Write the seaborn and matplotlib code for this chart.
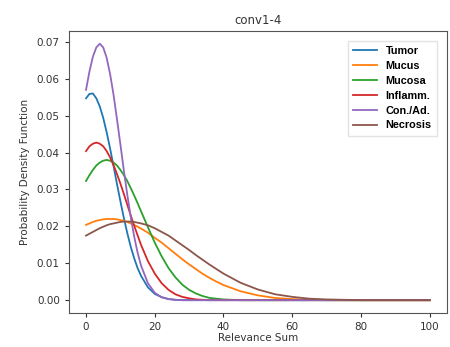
import pandas as pd
import matplotlib
matplotlib.use("Agg")
import matplotlib.pyplot as plt
import seaborn as sns

# --- DATA ---
relevance = [0, 1, 2, 3, 4, 5, 6, 7, 8, 9, 10, 11, 12, 13, 14, 15, 16,
             18, 20, 22, 24, 26, 28, 30, 32, 34, 36, 38, 40,
             45, 50, 55, 60, 65, 70, 75, 80, 90, 100]

tumor = [0.0547, 0.0559, 0.0560, 0.0547, 0.0525, 0.0494, 0.0455, 0.0411, 0.0364, 0.0315, 0.0268,
         0.0223, 0.0182, 0.0145, 0.0114, 0.0087, 0.0066,
         0.0035, 0.0017, 0.0008, 0.0003, 0.0001, 0, 0, 0, 0, 0, 0, 0,
         0, 0, 0, 0, 0, 0, 0, 0, 0, 0]
mucus = [0.0204, 0.0208, 0.0212, 0.0215, 0.0217, 0.0219, 0.0220, 0.0220, 0.0220, 0.0219, 0.0217,
         0.0215, 0.0212, 0.0208, 0.0204, 0.0199, 0.0194,
         0.0183, 0.0169, 0.0156, 0.0141, 0.0126, 0.0111, 0.0097, 0.0084, 0.0071, 0.0060, 0.0050, 0.0041,
         0.0024, 0.0013, 0.0006, 0.0003, 0.0001, 0, 0, 0, 0, 0]
mucosa = [0.0323, 0.0339, 0.0353, 0.0365, 0.0373, 0.0378, 0.0380, 0.0378, 0.0373, 0.0365, 0.0353,
          0.0339, 0.0323, 0.0304, 0.0284, 0.0263, 0.0241,
          0.0198, 0.0156, 0.0119, 0.0087, 0.0062, 0.0042, 0.0028, 0.0018, 0.0011, 0.0006, 0.0004, 0.0002,
          0, 0, 0, 0, 0, 0, 0, 0, 0, 0]
inflamm = [0.0404, 0.0417, 0.0424, 0.0427, 0.0424, 0.0417, 0.0404, 0.0387, 0.0366, 0.0342, 0.0316,
           0.0288, 0.0259, 0.0230, 0.0202, 0.0176, 0.0150,
           0.0106, 0.0072, 0.0046, 0.0028, 0.0016, 0.0009, 0.0005, 0.0002, 0.0001, 0, 0, 0,
           0, 0, 0, 0, 0, 0, 0, 0, 0, 0]
con_ad = [0.0570, 0.0620, 0.0660, 0.0685, 0.0695, 0.0685, 0.0657, 0.0613, 0.0557, 0.0491, 0.0422,
          0.0352, 0.0286, 0.0226, 0.0173, 0.0129, 0.0094,
          0.0046, 0.0020, 0.0008, 0.0003, 0.0001, 0, 0, 0, 0, 0, 0, 0,
          0, 0, 0, 0, 0, 0, 0, 0, 0, 0]
necrosis = [0.0175, 0.0180, 0.0185, 0.0190, 0.0195, 0.0199, 0.0203, 0.0206, 0.0208, 0.0210, 0.0212,
            0.0213, 0.0213, 0.0213, 0.0212, 0.0210, 0.0208,
            0.0203, 0.0195, 0.0185, 0.0175, 0.0162, 0.0149, 0.0136, 0.0122, 0.0109, 0.0096, 0.0084, 0.0072,
            0.0047, 0.0029, 0.0016, 0.0009, 0.0004, 0.0002, 0.0001, 0, 0, 0]

labels = ["Tumor", "Mucus", "Mucosa", "Inflamm.", "Con./Ad.", "Necrosis"]
series = [tumor, mucus, mucosa, inflamm, con_ad, necrosis]
colors = ["#1f77b4", "#ff7f0e", "#2ca02c", "#d62728", "#9467bd", "#8c564b"]


def plot_densities():
    df = pd.concat(
        [pd.DataFrame({"x": relevance, "pdf": vals, "tissue": name}) for name, vals in zip(labels, series)],
        ignore_index=True,
    )

    fig = plt.figure(figsize=(4.5, 3.47), dpi=100)
    ax = fig.add_axes([0.153, 0.098, 0.84, 0.813])
    sns.lineplot(data=df, x="x", y="pdf", hue="tissue", hue_order=labels,
                 palette=colors, linewidth=1.3, ax=ax)

    ax.set_title("conv1-4", fontsize=8.5, color="#333333", pad=5)
    ax.set_xlabel("Relevance Sum", fontsize=7.5, color="#333333", labelpad=1)
    ax.set_ylabel("Probability Density Function", fontsize=7.5, color="#333333", labelpad=5)
    ax.set_xticks([0, 20, 40, 60, 80, 100])
    ax.set_yticks([0.0, 0.01, 0.02, 0.03, 0.04, 0.05, 0.06, 0.07])
    ax.tick_params(labelsize=7.5, colors="#333333", length=3)
    for s in ax.spines.values():
        s.set_color("#555555")

    leg = ax.legend(loc="upper right",
                    prop={"size": 7.8, "weight": "bold", "family": "Liberation Sans"},
                    handlelength=2.2, borderaxespad=0.9, borderpad=0.5, labelspacing=0.45,
                    frameon=True, fancybox=False)
    leg.get_frame().set_edgecolor("#dddddd")

    fig.savefig("out.png", dpi=100)


if __name__ == "__main__":
    plot_densities()
